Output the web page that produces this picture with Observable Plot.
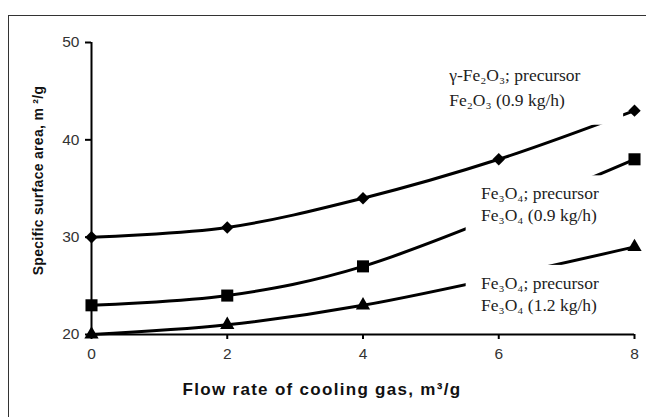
<!DOCTYPE html>
<html>
<head>
<meta charset="utf-8">
<script src="https://cdn.jsdelivr.net/npm/d3@7"></script>
<script src="https://cdn.jsdelivr.net/npm/@observablehq/plot@0.6"></script>
<style>
  html, body { margin: 0; padding: 0; background: #fff; overflow: hidden; }
  #wrap { position: relative; width: 646px; height: 417px; }
  #border { position: absolute; left: 8px; top: 15px; width: 700px; height: 500px; border: 1.5px solid #333; box-sizing: border-box; }
  #chart { position: absolute; left: 0; top: 0; }
</style>
</head>
<body>
<div id="wrap"><div id="border"></div><div id="chart"></div></div>
<script>
// Data
const flowRate = [0, 2, 4, 6, 8];
const gammaFe2O3_09 = [30, 31, 34, 38, 43];
const flowRateFe3O4 = [0, 2, 4, 8];
const fe3o4_09 = [23, 24, 27, 38];
const fe3o4_12 = [20, 21, 23, 29];
const xTicks = [0, 2, 4, 6, 8];
const yTicks = [20, 30, 40, 50];
const xTitle = "Flow rate of cooling gas, m³/g";
const yTitle = "Specific surface area, m ²/g";

// Annotation labels (data units)
const labelLines = [
  {x: 5.27, y: 46.6, text: "γ-Fe₂O₃; precursor"},
  {x: 5.27, y: 44.05, text: "Fe₂O₃ (0.9 kg/h)"},
  {x: 5.74, y: 34.5, text: "Fe₃O₄; precursor"},
  {x: 5.74, y: 32.23, text: "Fe₃O₄ (0.9 kg/h)"},
  {x: 5.74, y: 25.24, text: "Fe₃O₄; precursor"},
  {x: 5.74, y: 22.98, text: "Fe₃O₄ (1.2 kg/h)"}
];
const labelBoxes = [
  {x1: 5.15, x2: 7.84, y1: 41.5, y2: 48.4},
  {x1: 5.52, x2: 7.51, y1: 30.5, y2: 36.3},
  {x1: 5.52, x2: 7.81, y1: 21.6, y2: 27.1}
];

const s1 = flowRate.map((x, i) => ({x, y: gammaFe2O3_09[i]}));
const s2 = flowRateFe3O4.map((x, i) => ({x, y: fe3o4_09[i]}));
const s3 = flowRateFe3O4.map((x, i) => ({x, y: fe3o4_12[i]}));

const lineOpts = {x: "x", y: "y", curve: "catmull-rom", stroke: "#000", strokeWidth: 3};

const chart = Plot.plot({
  width: 646,
  height: 417,
  marginLeft: 91,
  marginRight: 12,
  marginTop: 42,
  marginBottom: 83,
  style: {background: "transparent", fontFamily: "Liberation Sans, Arial, sans-serif"},
  x: {domain: [0, 8], ticks: xTicks, label: null},
  y: {domain: [20, 50], ticks: yTicks, label: null},
  marks: [
    Plot.line(s1, lineOpts),
    Plot.line(s2, lineOpts),
    Plot.line(s3, lineOpts),
    Plot.rect(labelBoxes, {x1: "x1", x2: "x2", y1: "y1", y2: "y2", fill: "#fff"}),
    Plot.ruleX([0], {stroke: "#000", strokeWidth: 2}),
    Plot.ruleY([20], {stroke: "#000", strokeWidth: 2}),
    Plot.axisX({ticks: xTicks, tickSize: 5, tickPadding: 8, stroke: "#000", strokeWidth: 2, fill: "#333", fontSize: 15.5, tickFormat: d => String(d), label: null}),
    Plot.axisY({ticks: yTicks, tickSize: 6, tickPadding: 6, stroke: "#000", strokeWidth: 2, fill: "#333", fontSize: 15.5, tickFormat: d => String(d), label: null}),
    Plot.dot(s1, {x: "x", y: "y", symbol: "diamond2", r: 5.6, fill: "#000", stroke: "none"}),
    Plot.dot(s2, {x: "x", y: "y", symbol: "square", r: 6.8, fill: "#000", stroke: "none"}),
    Plot.dot(s3, {x: "x", y: "y", symbol: "triangle", r: 5.3, fill: "#000", stroke: "none"}),
    Plot.text(labelLines, {x: "x", y: "y", text: "text", textAnchor: "start", lineAnchor: "middle", fontFamily: "Liberation Serif, Times New Roman, serif", fontSize: 17.5, fill: "#222"}),
    Plot.text([xTitle], {frameAnchor: "bottom", textAnchor: "middle", dx: -41, dy: 55, fontWeight: "bold", fontSize: 17, fill: "#111", lineAnchor: "middle"}),
    Plot.text([yTitle], {frameAnchor: "left", textAnchor: "middle", dx: -53, dy: -8, rotate: -90, fontWeight: "bold", fontSize: 14, fill: "#111", lineAnchor: "middle"})
  ]
});
d3.select(chart).selectAll("text")
  .filter(function() { return this.textContent === xTitle; })
  .attr("letter-spacing", "1.3");
d3.select(chart).selectAll("text")
  .filter(function() { return this.textContent === yTitle; })
  .attr("letter-spacing", "0.3");
document.getElementById("chart").appendChild(chart);
</script>
</body>
</html>
